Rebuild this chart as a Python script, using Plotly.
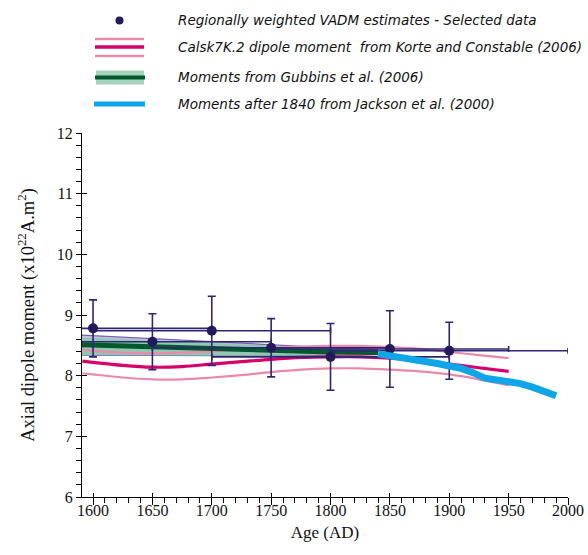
import plotly.graph_objects as go

# ---- data ----
vadm_years = [1600, 1650, 1700, 1750, 1800, 1850, 1900]
vadm_vals = [8.78, 8.56, 8.74, 8.46, 8.31, 8.44, 8.41]
vadm_err_y = [0.47, 0.46, 0.57, 0.48, 0.55, 0.63, 0.47]
vadm_err_x = [100, 100, 100, 100, 100, 100, 100]

cals_years = [1591, 1600, 1625, 1650, 1675, 1700, 1725, 1750, 1775, 1800, 1825, 1850, 1875, 1900, 1925, 1950]
cals_mid = [8.24, 8.22, 8.17, 8.14, 8.15, 8.19, 8.23, 8.27, 8.30, 8.31, 8.31, 8.29, 8.25, 8.19, 8.13, 8.07]
cals_up = [8.43, 8.41, 8.38, 8.37, 8.38, 8.40, 8.43, 8.46, 8.48, 8.49, 8.49, 8.47, 8.44, 8.39, 8.34, 8.29]
cals_lo = [8.04, 8.02, 7.97, 7.94, 7.94, 7.97, 8.01, 8.06, 8.10, 8.12, 8.12, 8.10, 8.07, 8.02, 7.94, 7.84]

gub_years = [1590, 1650, 1700, 1750, 1800, 1840]
gub_mid = [8.51, 8.47, 8.44, 8.41, 8.39, 8.38]
gub_up_outer = [8.67, 8.61, 8.55, 8.50, 8.46, 8.43]
gub_up = [8.63, 8.58, 8.53, 8.49, 8.45, 8.42]
gub_lo = [8.34, 8.33, 8.33, 8.33, 8.34, 8.35]

jack_years = [1840, 1850, 1860, 1870, 1880, 1890, 1900, 1910, 1920, 1930, 1940, 1950, 1960, 1970, 1980, 1990]
jack_vals = [8.36, 8.33, 8.31, 8.28, 8.24, 8.20, 8.16, 8.12, 8.05, 7.96, 7.93, 7.91, 7.87, 7.81, 7.74, 7.67]

legend_labels = [
    "Regionally weighted VADM estimates - Selected data",
    "Calsk7K.2 dipole moment  from Korte and Constable (2006)",
    "Moments from Gubbins et al. (2006)",
    "Moments after 1840 from Jackson et al. (2000)",
]

NAVY = "#231a5c"
ERR = "#2f2673"
DPINK = "#d6006c"
LPINK = "#e98aab"
DGREEN = "#005a2e"
LGREEN = "rgba(140,200,170,0.9)"
LAV = "rgba(175,165,215,0.7)"
PURP = "#7566ae"
BLUE = "#0ea5e9"

fig = go.Figure()

# Gubbins lavender outer band
fig.add_trace(go.Scatter(x=gub_years, y=gub_lo, mode="lines", line=dict(color=PURP, width=1.2),
                         showlegend=False, hoverinfo="skip"))
fig.add_trace(go.Scatter(x=gub_years, y=gub_up_outer, mode="lines", line=dict(color=PURP, width=1.2),
                         fill="tonexty", fillcolor=LAV, showlegend=False, hoverinfo="skip"))
# Gubbins green band
fig.add_trace(go.Scatter(x=gub_years, y=gub_lo, mode="lines", line=dict(color=PURP, width=0),
                         showlegend=False, hoverinfo="skip"))
fig.add_trace(go.Scatter(x=gub_years, y=gub_up, mode="lines", line=dict(color=PURP, width=0),
                         fill="tonexty", fillcolor=LGREEN, showlegend=False, hoverinfo="skip"))

# Calsk7K.2
for arr in (cals_up, cals_lo):
    fig.add_trace(go.Scatter(x=cals_years, y=arr, mode="lines", line=dict(color=LPINK, width=2.2, shape="spline"),
                             showlegend=False, hoverinfo="skip"))
fig.add_trace(go.Scatter(x=cals_years, y=cals_mid, mode="lines", line=dict(color=DPINK, width=3.2, shape="spline"),
                         showlegend=False, hoverinfo="skip"))

# Gubbins centre line
fig.add_trace(go.Scatter(x=gub_years, y=gub_mid, mode="lines", line=dict(color=DGREEN, width=5),
                         showlegend=False, hoverinfo="skip"))

# VADM data with error bars
fig.add_trace(go.Scatter(
    x=vadm_years, y=vadm_vals, mode="markers",
    marker=dict(color=NAVY, size=10),
    error_y=dict(type="data", array=vadm_err_y, color=ERR, thickness=1.6, width=4),
    error_x=dict(type="data", array=vadm_err_x, color=ERR, thickness=1.6, width=3),
    showlegend=False,
))

# Jackson
fig.add_trace(go.Scatter(x=jack_years, y=jack_vals, mode="lines", line=dict(color=BLUE, width=7),
                         showlegend=False, hoverinfo="skip"))

# dummy trace for overlay axes (crossing major ticks)
fig.add_trace(go.Scatter(x=[], y=[], xaxis="x2", yaxis="y2", showlegend=False))

W, H = 588, 555
L, R, T, B = 82, 20, 133, 58
PW, PH = W - L - R, H - T - B


def px(x):
    return (x - L) / PW


def py(y):
    return (H - B - y) / PH


shapes = []
# legend symbols
shapes.append(dict(type="line", xref="paper", yref="paper", x0=px(95), x1=px(144), y0=py(39), y1=py(39),
                   line=dict(color=LPINK, width=2.5)))
shapes.append(dict(type="line", xref="paper", yref="paper", x0=px(95), x1=px(144), y0=py(47), y1=py(47),
                   line=dict(color=DPINK, width=3.5)))
shapes.append(dict(type="line", xref="paper", yref="paper", x0=px(95), x1=px(144), y0=py(56), y1=py(56),
                   line=dict(color=LPINK, width=2.5)))
shapes.append(dict(type="rect", xref="paper", yref="paper", x0=px(96), x1=px(144), y0=py(84.5), y1=py(70.5),
                   line=dict(width=0), fillcolor="#a6d3bd"))
shapes.append(dict(type="line", xref="paper", yref="paper", x0=px(95), x1=px(145), y0=py(77.5), y1=py(77.5),
                   line=dict(color=DGREEN, width=4)))
shapes.append(dict(type="line", xref="paper", yref="paper", x0=px(94), x1=px(145), y0=py(104), y1=py(104),
                   line=dict(color=BLUE, width=5)))
shapes.append(dict(type="circle", xref="paper", yref="paper", x0=px(115.5), x1=px(123.5), y0=py(16.5), y1=py(24.5),
                   line=dict(width=0), fillcolor=NAVY))

annotations = []
rows_y = [20, 47, 77, 104]
for lab, yy in zip(legend_labels, rows_y):
    annotations.append(dict(xref="paper", yref="paper", x=px(176), y=py(yy), xanchor="left", yanchor="middle",
                            text="<i>" + lab + "</i>", showarrow=False,
                            font=dict(family="DejaVu Sans", size=13.5, color="#111111")))

tickfont = dict(family="Liberation Serif", size=16, color="#111111")

fig.update_layout(
    width=W, height=H,
    margin=dict(l=L, r=R, t=T, b=B),
    paper_bgcolor="white", plot_bgcolor="white",
    showlegend=False,
    shapes=shapes, annotations=annotations,
    xaxis=dict(range=[1590.7, 2000], tick0=1600, dtick=50, ticks="outside", ticklen=7, tickwidth=1,
               tickcolor="black", showline=True, linecolor="black", linewidth=1, showgrid=False, zeroline=False,
               minor=dict(dtick=10, tick0=1600, ticks="outside", ticklen=5, tickcolor="black", showgrid=False),
               tickfont=tickfont, automargin=False, ticklabelstandoff=-8,
               title=dict(text="Age (AD)", font=dict(family="Liberation Serif", size=17, color="#111111"),
                          standoff=7)),
    yaxis=dict(range=[6, 12], tick0=6, dtick=1, ticks="outside", ticklen=5, tickwidth=1, tickcolor="black",
               showline=True, linecolor="black", linewidth=1, showgrid=False, zeroline=False,
               minor=dict(dtick=0.2, ticks="outside", ticklen=5, tickcolor="black", showgrid=False),
               tickfont=tickfont, automargin=False,
               title=dict(text="Axial dipole moment (x10<sup>22</sup>A.m<sup>2</sup>)",
                          font=dict(family="Liberation Serif", size=18.5, color="#111111"), standoff=17)),
    xaxis2=dict(overlaying="x", matches="x", anchor="y2", ticks="inside", ticklen=4, tick0=1600, dtick=50,
                tickcolor="black", showticklabels=False, showline=False, showgrid=False, zeroline=False,
                automargin=False),
    yaxis2=dict(overlaying="y", matches="y", anchor="x2", ticks="inside", ticklen=5, tick0=6, dtick=1,
                tickcolor="black", showticklabels=False, showline=False, showgrid=False, zeroline=False,
                automargin=False),
)

fig.write_html("out.html")
